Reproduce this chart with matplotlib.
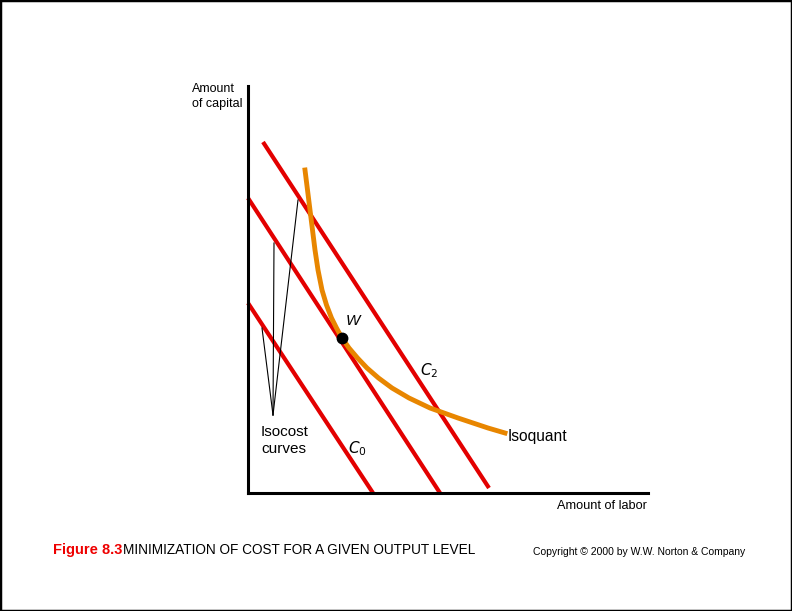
import matplotlib.pyplot as plt
from matplotlib.patches import Rectangle

plt.rcParams['font.family'] = ['Liberation Sans', 'DejaVu Sans']

# isocost lines: (x, y) end points, labour on x, capital on y
isocost_c2 = ([15, 241], [351, 5])
isocost_c1 = ([0, 192], [295, 0])
isocost_c0 = ([0, 125], [190, 0])

# isoquant
isoquant_x = [57, 59.5, 62, 64.5, 67, 70, 74, 78.5, 83.5, 88.5, 94, 101, 109.5,
              119, 130.5, 144, 161, 182, 210, 240, 257]
isoquant_y = [323, 303, 283, 263, 243, 223, 203, 188, 175, 165, 155, 145, 135,
              125, 115, 105, 95, 85, 75, 65, 60]

# cost-minimising point W
w_point = (94, 155)

# pointer lines for the "Isocost curves" label
pointer_apex = (25, 78)
pointer_ends = [(26, 250), (50, 293), (14, 165)]

W, H = 792, 611
fig = plt.figure(figsize=(W / 100, H / 100), dpi=100)
fig.patches.append(Rectangle((0, 0), 1, 1, transform=fig.transFigure,
                             fill=False, edgecolor='black', linewidth=2.5))

ax = fig.add_axes([248 / W, (H - 493) / H, 400 / W, 407 / H])
ax.set_xlim(0, 400)
ax.set_ylim(0, 407)
ax.spines[['top', 'right']].set_visible(False)
ax.spines[['left', 'bottom']].set_linewidth(2.2)
ax.set_xticks([])
ax.set_yticks([])

red = '#e30000'
orange = '#e88600'
for xs, ys in (isocost_c2, isocost_c1, isocost_c0):
    ax.plot(xs, ys, color=red, lw=3.0, solid_capstyle='butt', clip_on=False)

ax.plot(isoquant_x, isoquant_y, color=orange, lw=3.5, clip_on=False,
        solid_joinstyle='round')
ax.plot(*w_point, 'o', color='black', ms=7.5, zorder=5)

for ex, ey in pointer_ends:
    ax.plot([pointer_apex[0], ex], [pointer_apex[1], ey], color='black', lw=0.8)

ax.text(98, 168, 'W', fontsize=11, style='italic')
ax.text(172, 118, '$C_2$', fontsize=11)
ax.text(100, 40, '$C_0$', fontsize=11)
ax.text(13, 40, 'Isocost\ncurves', fontsize=11, linespacing=1.25)
ax.text(260, 56, 'Isoquant', fontsize=11.2, va='center')

fig.text(192 / W, 1 - 83 / H, 'Amount\nof capital', fontsize=9, va='top', linespacing=1.3)
fig.text(647 / W, 1 - 506 / H, 'Amount of labor', fontsize=9.2, ha='right', va='center')

fig.text(53 / W, 1 - 550 / H, 'Figure 8.3', fontsize=10.5, fontweight='bold',
         color='#ee0000', va='center')
fig.text(123 / W, 1 - 550 / H, 'MINIMIZATION OF COST FOR A GIVEN OUTPUT LEVEL',
         fontsize=9.8, va='center')
fig.text(533 / W, 1 - 552 / H, 'Copyright \u00a9 2000 by W.W. Norton & Company',
         fontsize=7.5, va='center')

fig.savefig('out.png', dpi=100)
